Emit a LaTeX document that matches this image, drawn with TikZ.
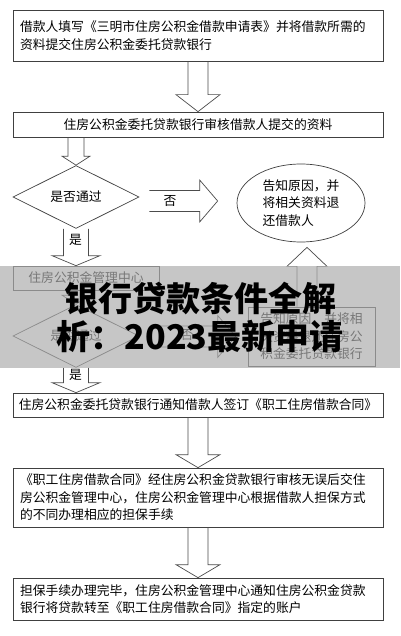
\documentclass[tikz,border=0pt]{standalone}
\usepackage{fontspec}
\setmainfont{Noto Sans CJK SC}
\newfontfamily\titlefont{Noto Sans CJK SC}
\usetikzlibrary{shapes.geometric,calc}

\tikzset{
	textbox/.style={draw=black!75, line width=0.7pt, inner sep=0pt, minimum width=370pt,
		font=\fontsize{12.8pt}{17.5pt}\selectfont},
	decision/.style={diamond, draw=black!75, line width=0.7pt, inner sep=0pt,
		minimum width=126pt, minimum height=49pt, font=\fontsize{12.8pt}{15pt}\selectfont},
	blockarrow/.style={draw=black!70, line width=0.7pt},
	tag/.style={inner sep=0pt, font=\fontsize{12.8pt}{15pt}\selectfont}
}

% hollow block arrows: start point, end point, shaft half width, head half width, head length
\newcommand{\downblock}[5]{%
	\draw[blockarrow] let \p1=(#1), \p2=(#2) in
	(\x2-#3pt,\y1) -- (\x2-#3pt,\y2+#5pt) -- (\x2-#4pt,\y2+#5pt) -- (\x2,\y2)
	-- (\x2+#4pt,\y2+#5pt) -- (\x2+#3pt,\y2+#5pt) -- (\x2+#3pt,\y1);}
\newcommand{\upblock}[5]{%
	\draw[blockarrow] let \p1=(#1), \p2=(#2) in
	(\x2-#3pt,\y1) -- (\x2-#3pt,\y2-#5pt) -- (\x2-#4pt,\y2-#5pt) -- (\x2,\y2)
	-- (\x2+#4pt,\y2-#5pt) -- (\x2+#3pt,\y2-#5pt) -- (\x2+#3pt,\y1);}
\newcommand{\rightblock}[5]{%
	\draw[blockarrow] let \p1=(#1), \p2=(#2) in
	(\x1,\y2+#3pt) -- (\x2-#5pt,\y2+#3pt) -- (\x2-#5pt,\y2+#4pt) -- (\x2,\y2)
	-- (\x2-#5pt,\y2-#4pt) -- (\x2-#5pt,\y2-#3pt) -- (\x1,\y2-#3pt);}

\begin{document}
\begin{tikzpicture}[x=1pt, y=-1pt]
	\useasboundingbox (0,0) rectangle (400,636);
	\fill[white] (0,0) rectangle (400,636);

	% boxes and decisions
	\node[textbox, minimum height=51pt, text width=356pt, align=left] (apply) at (198,35.5)
		{借款人填写《三明市住房公积金借款申请表》并将借款所需的\\资料提交住房公积金委托贷款银行};
	\node[textbox, minimum height=25pt] (review) at (198,124.5)
		{住房公积金委托贷款银行审核借款人提交的资料};
	\node[decision] (pass1) at (76,197) {是否通过};
	\node[ellipse, draw=black!75, line width=0.7pt, inner sep=0pt, minimum width=128pt,
		minimum height=78pt, align=left, font=\fontsize{12.8pt}{17.5pt}\selectfont] (refuse1) at (301,203)
		{告知原因，并\\将相关资料退\\还借款人};
	\node[textbox, minimum width=146pt, minimum height=24pt] (center) at (86,278)
		{住房公积金管理中心};
	\node[decision] (pass2) at (76,336) {是否通过};
	\node[textbox, minimum width=127pt, minimum height=59pt, align=left] (refuse2) at (311.5,336.5)
		{告知原因，并将相\\关资料退还住房公\\积金委托贷款银行};
	\node[textbox, minimum height=24pt] (notify) at (198,405)
		{住房公积金委托贷款银行通知借款人签订《职工住房借款合同》};
	\node[textbox, minimum height=59pt, text width=356pt, align=left] (contract) at (198,497.5)
		{《职工住房借款合同》经住房公积金贷款银行审核无误后交住\\房公积金管理中心，住房公积金管理中心根据借款人担保方式\\的不同办理相应的担保手续};
	\node[textbox, minimum height=42pt, text width=356pt, align=left] (transfer) at (198,599)
		{担保手续办理完毕，住房公积金管理中心通知住房公积金贷款\\银行将贷款转至《职工住房借款合同》指定的账户};

	% free ends of the side arrows
	\coordinate (tip1) at ($(refuse1.west)+(-19,-2)$);
	\coordinate (tip2) at ($(refuse2.west)+(-12,0)$);
	\coordinate (tip3) at ($(refuse1.south)+(6,5)$);

	% block arrows
	\downblock{apply.south}{review.north}{10}{22}{17}
	\downblock{review.south -| pass1.north}{pass1.north}{8}{14}{9}
	\downblock{pass1.south}{center.north -| pass1.south}{12.5}{24}{10}
	\downblock{center.south -| pass2.north}{pass2.north}{8}{14}{9}
	\downblock{pass2.south}{notify.north -| pass2.south}{12.5}{24}{10}
	\downblock{notify.south}{contract.north}{10}{22}{13}
	\downblock{contract.south}{transfer.north}{10}{22}{13}
	\rightblock{$(pass1.east)+(10,0)$}{tip1}{10.5}{21}{18}
	\rightblock{$(pass2.east)+(21,0)$}{tip2}{10.5}{21}{18}
	\upblock{refuse2.north}{tip3}{10}{20}{19}

	% arrow labels
	\node[tag] (no1) at (170,201) {否};
	\node[tag] (yes1) at (75.5,240) {是};
	\node[tag] (no2) at (187,335) {否};
	\node[tag] (yes2) at (75.5,375) {是};

	% banner over the middle
	\fill[black!32, opacity=0.69] (0,266) rectangle (400,368);
	\node[inner sep=0pt, align=center, font=\titlefont\bfseries\fontsize{34pt}{38pt}\selectfont] (title) at (200,317)
		{银行贷款条件全解\\析：2023最新申请};
\end{tikzpicture}
\end{document}
